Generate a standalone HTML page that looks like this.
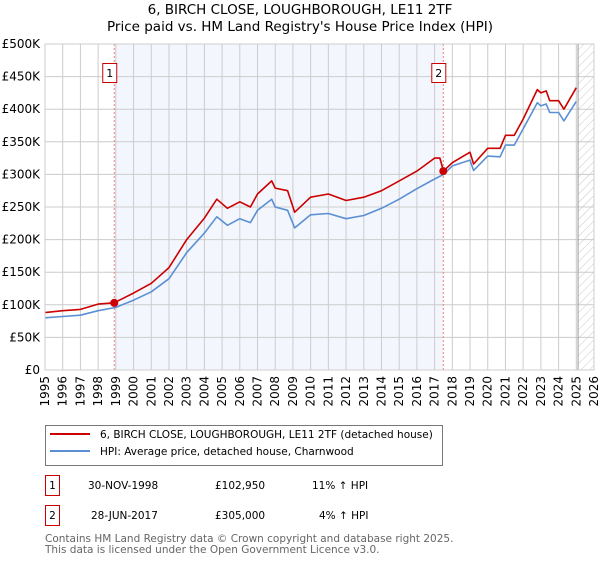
<!DOCTYPE html>
<html><head><meta charset="utf-8"><style>
body{margin:0;background:#fff;font-family:"DejaVu Sans","Liberation Sans",sans-serif;}
svg text{font-family:"DejaVu Sans","Liberation Sans",sans-serif;}
</style></head><body>
<svg id="c" width="600" height="560" xmlns="http://www.w3.org/2000/svg">
<defs><pattern id="hatch" width="6" height="6" patternUnits="userSpaceOnUse" patternTransform="rotate(45)"><line x1="0" y1="0" x2="0" y2="6" stroke="#bbb" stroke-width="0.8"/></pattern></defs>
<text x="300" y="14" text-anchor="middle" font-size="13.5">6, BIRCH CLOSE, LOUGHBOROUGH, LE11 2TF</text>
<text x="300" y="31" text-anchor="middle" font-size="13.5">Price paid vs. HM Land Registry's House Price Index (HPI)</text>
<g id="plot"></g>
<rect x="45.5" y="425.5" width="397" height="40" fill="#fff" stroke="#777"/>
<line x1="50" y1="434" x2="90" y2="434" stroke="#cc0000" stroke-width="2"/>
<text x="100" y="438" font-size="10.5">6, BIRCH CLOSE, LOUGHBOROUGH, LE11 2TF (detached house)</text>
<line x1="50" y1="451" x2="90" y2="451" stroke="#5b8fd4" stroke-width="2"/>
<text x="100" y="455" font-size="10.5">HPI: Average price, detached house, Charnwood</text>
<g font-size="10.5">
<rect x="45.5" y="475.5" width="14" height="20" fill="#fff" stroke="#cc0000"/>
<text x="52.5" y="489" text-anchor="middle">1</text>
<text x="88" y="489">30-NOV-1998</text><text x="215" y="489">£102,950</text><text x="312" y="489">11% ↑ HPI</text>
<rect x="45.5" y="505.5" width="14" height="20" fill="#fff" stroke="#cc0000"/>
<text x="52.5" y="519" text-anchor="middle">2</text>
<text x="91" y="519">28-JUN-2017</text><text x="215" y="519">£305,000</text><text x="319" y="519">4% ↑ HPI</text>
</g>
<text x="45" y="542" font-size="10.5" fill="#666">Contains HM Land Registry data © Crown copyright and database right 2025.</text>
<text x="45" y="553" font-size="10.5" fill="#666">This data is licensed under the Open Government Licence v3.0.</text>
</svg>
<script>
const hpiDates=[1995,1996,1997,1998,1999,2000,2001,2002,2003,2004,2004.7,2005.3,2006,2006.6,2007,2007.8,2008,2008.7,2009.1,2010,2011,2012,2013,2014,2015,2016,2017,2017.5,2018,2019,2019.2,2020,2020.7,2021,2021.5,2022,2022.8,2023,2023.3,2023.5,2024,2024.3,2025];
const hpiValues=[80,82,84,91,96,107,120,140,180,210,235,222,232,226,245,262,250,245,218,238,240,232,237,248,262,278,293,300,313,322,306,328,327,345,345,370,410,405,408,395,395,382,412];
const redDates=[1995,1996,1997,1998,1998.9,2000,2001,2002,2003,2004,2004.7,2005.3,2006,2006.6,2007,2007.8,2008,2008.7,2009.1,2010,2011,2012,2013,2014,2015,2016,2017,2017.3,2017.5,2018,2019,2019.2,2020,2020.7,2021,2021.5,2022,2022.8,2023,2023.3,2023.5,2024,2024.3,2025];
const redValues=[88,91,93,101,103,118,133,157,200,233,262,248,258,250,270,290,279,275,242,265,270,260,265,275,290,305,325,325,305,318,334,316,340,340,360,360,385,430,425,428,413,413,400,433];
const saleDates=[1998.91,2017.49];
const saleValues=[102.95,305];
const saleLabels=["1","2"];
const yTicks=[0,50,100,150,200,250,300,350,400,450,500];
const yTickLabels=["£0","£50K","£100K","£150K","£200K","£250K","£300K","£350K","£400K","£450K","£500K"];
const xYears=[1995,1996,1997,1998,1999,2000,2001,2002,2003,2004,2005,2006,2007,2008,2009,2010,2011,2012,2013,2014,2015,2016,2017,2018,2019,2020,2021,2022,2023,2024,2025,2026];

const X0=45,X1=594,Y0=370,Y1=44;
const xs=t=>X0+(t-1995)/(2026-1995)*(X1-X0);
const ys=v=>Y0-v/500*(Y0-Y1);
const NS="http://www.w3.org/2000/svg";
const g=document.getElementById('plot');
function mk(tag,attrs){const e=document.createElementNS(NS,tag);for(const k in attrs)e.setAttribute(k,attrs[k]);g.appendChild(e);return e;}

let r=mk('rect',{x:xs(saleDates[0]),y:Y1,width:xs(saleDates[1])-xs(saleDates[0]),height:Y0-Y1,fill:'#eef3fc',opacity:0.7});


let h=mk('rect',{x:xs(2025.1),y:Y1,width:X1-xs(2025.1),height:Y0-Y1,fill:'url(#hatch)'});



yTicks.forEach((v,i)=>{
  let l=mk('line',{x1:X0,x2:X1,y1:ys(v),y2:ys(v),stroke:'#ccc','stroke-width':1});
  
  
  let t=mk('text',{x:X0-5,y:ys(v)+4,'text-anchor':'end','font-size':12});
  t.textContent=yTickLabels[i];
  
  
});
xYears.forEach(yr=>{
  let l=mk('line',{x1:xs(yr),x2:xs(yr),y1:Y1,y2:Y0,stroke:'#ccc','stroke-width':1});
  
  
  let t=mk('text',{x:0,y:0,'text-anchor':'end','font-size':12,transform:`translate(${xs(yr)+4},${Y0+6}) rotate(-90)`});
  t.textContent=yr;
  
  
});
let vl=mk('line',{x1:xs(2025.1),x2:xs(2025.1),y1:Y1,y2:Y0,stroke:'#999','stroke-width':1});



saleDates.forEach((d,i)=>{
  let l=mk('line',{x1:xs(d),x2:xs(d),y1:Y1,y2:Y0,stroke:'#f08080','stroke-width':1,'stroke-dasharray':'2,2'});
  
  
});
function path(dates,vals,color,name){
  let d=dates.map((t,i)=>(i?'L':'M')+xs(t).toFixed(1)+','+ys(vals[i]).toFixed(1)).join('');
  let p=mk('path',{d:d,fill:'none',stroke:color,'stroke-width':1.6,'stroke-linejoin':'round'});
  
  
}
path(hpiDates,hpiValues,'#5b8fd4','hpi-line');
path(redDates,redValues,'#cc0000','property-price-line');
saleDates.forEach((d,i)=>{
  let c=mk('circle',{cx:xs(d),cy:ys(saleValues[i]),r:4,fill:'#cc0000'});
  
  
  let b=mk('rect',{x:xs(d)-11.5,y:63.5,width:14,height:19,fill:'#fff',stroke:'#cc0000'});
  
  
  let t=mk('text',{x:xs(d)-4.5,y:77,'text-anchor':'middle','font-size':11});
  t.textContent=saleLabels[i];
  
  
});
let f=mk('rect',{x:X0,y:Y1,width:X1-X0,height:Y0-Y1,fill:'none',stroke:'#ccc'});


</script>
</body></html>
